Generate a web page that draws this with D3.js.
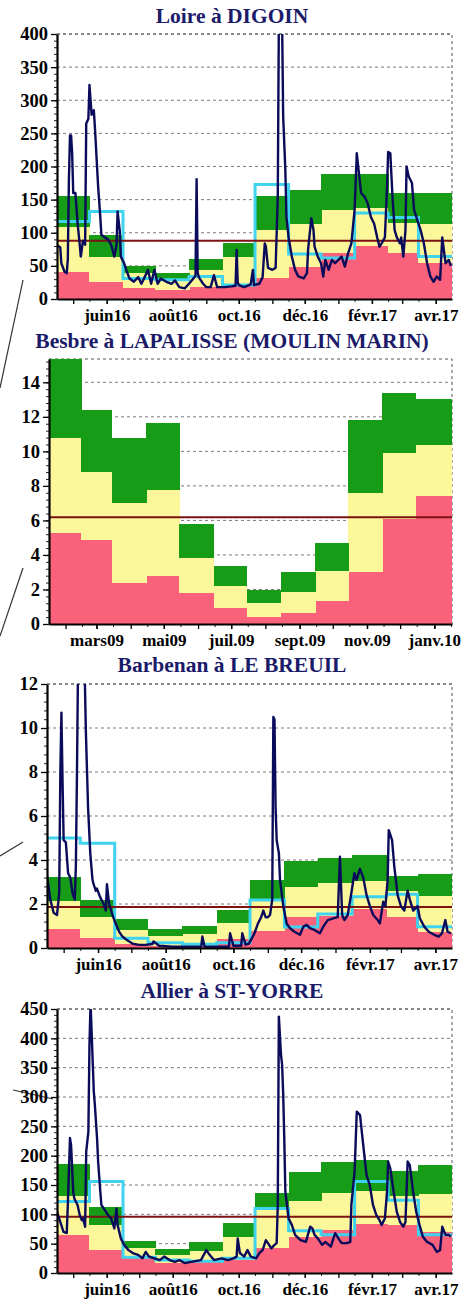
<!DOCTYPE html>
<html>
<head>
<meta charset="utf-8">
<script src="https://cdn.jsdelivr.net/npm/d3@7"></script>
<style>
  body { margin: 0; background: #fff; }
  svg text { font-family: "Liberation Serif", "Times New Roman", serif; font-weight: bold; }
</style>
</head>
<body>
<svg id="chart" width="473" height="1301"></svg>
<script>
// ---- tick labels ----
var ticks1617Dates = ["2016-06-01", "2016-08-01", "2016-10-01", "2016-12-01", "2017-02-01", "2017-04-01"];
var ticks1617Labels = ["juin16", "août16", "oct.16", "déc.16", "févr.17", "avr.17"];
var ticks0910Dates = ["2009-03-01", "2009-05-01", "2009-07-01", "2009-09-01", "2009-11-01", "2010-01-01"];
var ticks0910Labels = ["mars09", "mai09", "juil.09", "sept.09", "nov.09", "janv.10"];

// ---- Loire à DIGOIN (monthly bands, median, threshold, daily flow) ----
var loireLow = [41, 25, 16, 14, 18, 20, 31, 49, 70, 80, 70, 54];
var loireMid = [109, 64, 39, 29, 44, 63, 104, 113, 134, 138, 114, 113];
var loireHigh = [156, 97, 50, 39, 61, 85, 156, 164, 189, 189, 160, 160];
var loireMedian = [117, 132, 31, 29, 34, 21, 173, 68, 62, 130, 123, 64];
var loireThreshold = 88;
var loireFlow = [
  ["2016-04-16",81],["2016-04-19",78],["2016-04-20",54],["2016-04-23",41],["2016-04-25",39],["2016-04-26",60],
  ["2016-04-27",180],["2016-04-28",247],["2016-04-29",247],["2016-04-30",220],["2016-05-01",160],["2016-05-03",160],
  ["2016-05-05",115],["2016-05-07",82],["2016-05-08",64],["2016-05-10",88],["2016-05-12",82],["2016-05-13",265],
  ["2016-05-15",272],["2016-05-16",323],["2016-05-18",278],["2016-05-20",285],["2016-05-21",260],["2016-05-23",200],
  ["2016-05-24",170],["2016-05-26",124],["2016-05-27",97],["2016-05-30",93],["2016-06-02",90],["2016-06-05",82],
  ["2016-06-08",64],["2016-06-10",82],["2016-06-11",132],["2016-06-13",103],["2016-06-14",64],["2016-06-17",54],
  ["2016-06-19",44],["2016-06-22",31],["2016-06-26",26],["2016-06-30",33],["2016-07-03",23],["2016-07-06",33],
  ["2016-07-09",44],["2016-07-12",23],["2016-07-15",44],["2016-07-18",23],["2016-07-21",31],["2016-07-26",26],
  ["2016-07-31",23],["2016-08-03",28],["2016-08-07",18],["2016-08-12",16],["2016-08-16",23],["2016-08-20",31],
  ["2016-08-22",35],["2016-08-23",181],["2016-08-24",40],["2016-08-25",33],["2016-08-29",23],["2016-09-01",18],
  ["2016-09-05",18],["2016-09-08",36],["2016-09-11",18],["2016-09-18",18],["2016-09-24",19],["2016-09-28",20],
  ["2016-09-29",74],["2016-09-30",25],["2016-10-01",21],["2016-10-06",18],["2016-10-12",22],["2016-10-14",44],
  ["2016-10-15",21],["2016-10-20",23],["2016-10-23",33],["2016-10-25",84],["2016-10-26",79],["2016-10-28",47],
  ["2016-11-01",44],["2016-11-04",47],["2016-11-06",154],["2016-11-07",420],["2016-11-09",480],["2016-11-10",420],
  ["2016-11-11",275],["2016-11-13",195],["2016-11-14",124],["2016-11-16",93],["2016-11-19",64],["2016-11-22",44],
  ["2016-11-25",34],["2016-11-30",31],["2016-12-03",39],["2016-12-04",74],["2016-12-07",122],["2016-12-09",104],
  ["2016-12-10",79],["2016-12-13",64],["2016-12-16",54],["2016-12-18",34],["2016-12-20",59],["2016-12-23",44],
  ["2016-12-26",59],["2016-12-29",54],["2017-01-01",59],["2017-01-04",64],["2017-01-07",49],["2017-01-10",69],
  ["2017-01-13",84],["2017-01-16",134],["2017-01-18",220],["2017-01-19",205],["2017-01-22",160],["2017-01-25",155],
  ["2017-01-28",145],["2017-01-31",124],["2017-02-03",114],["2017-02-06",92],["2017-02-08",79],["2017-02-10",84],
  ["2017-02-13",93],["2017-02-15",170],["2017-02-16",222],["2017-02-18",220],["2017-02-20",155],["2017-02-22",104],
  ["2017-02-24",93],["2017-02-27",84],["2017-02-28",93],["2017-03-02",64],["2017-03-04",104],["2017-03-05",200],
  ["2017-03-07",185],["2017-03-10",175],["2017-03-12",134],["2017-03-15",119],["2017-03-18",104],["2017-03-21",84],
  ["2017-03-24",54],["2017-03-27",34],["2017-03-30",26],["2017-04-02",34],["2017-04-05",29],["2017-04-07",93],
  ["2017-04-10",54],["2017-04-13",59],["2017-04-15",50]
];

// ---- Besbre à LAPALISSE (bands and threshold only) ----
var besbreLow = [5.3, 4.86, 2.36, 2.8, 1.78, 0.91, 0.39, 0.62, 1.33, 3.03, 6.1, 7.43];
var besbreMid = [10.75, 8.78, 6.99, 7.78, 3.8, 2.18, 1.22, 1.87, 3.07, 7.59, 9.9, 10.37];
var besbreHigh = [16, 12.41, 10.75, 11.62, 5.77, 3.38, 1.97, 2.99, 4.71, 11.81, 13.36, 13.03];
var besbreThreshold = 6.18;

// ---- Barbenan à LE BREUIL ----
var barbenanLow = [0.86, 0.44, 0.2, 0.1, 0.1, 0.42, 0.76, 1.42, 1.45, 1.76, 1.42, 0.74];
var barbenanMid = [2.15, 1.39, 0.8, 0.55, 0.64, 1.14, 2.24, 2.76, 2.94, 3.06, 2.58, 2.35];
var barbenanHigh = [3.21, 2.17, 1.3, 0.85, 1.0, 1.71, 3.07, 3.97, 4.1, 4.25, 3.26, 3.36];
var barbenanMedian = [5.0, 4.76, 0.44, 0.24, 0.17, 0.24, 2.18, 0.95, 1.55, 2.33, 2.44, 0.97];
var barbenanThreshold = 1.86;
var barbenanFlow = [
  ["2016-04-16",3.3],["2016-04-19",2.2],["2016-04-22",1.6],["2016-04-25",1.5],["2016-04-27",2.5],["2016-04-28",7.9],
  ["2016-04-29",10.7],["2016-04-30",7.6],["2016-05-01",4.9],["2016-05-03",4.8],["2016-05-05",3.4],["2016-05-07",3.2],
  ["2016-05-09",2.5],["2016-05-11",2.2],["2016-05-12",3.7],["2016-05-13",7.9],["2016-05-14",13],["2016-05-17",13.5],
  ["2016-05-20",12.5],["2016-05-21",9.9],["2016-05-23",6.4],["2016-05-25",4.3],["2016-05-27",3.1],["2016-05-28",2.9],
  ["2016-05-30",2.6],["2016-05-31",2.7],["2016-06-03",2.3],["2016-06-06",2.0],["2016-06-08",1.7],["2016-06-09",2.9],
  ["2016-06-11",2.0],["2016-06-14",1.5],["2016-06-17",1.1],["2016-06-20",0.74],["2016-06-23",0.52],["2016-06-27",0.36],
  ["2016-07-02",0.2],["2016-07-08",0.14],["2016-07-14",0.14],["2016-07-20",0.18],["2016-07-21",0.3],["2016-07-26",0.1],
  ["2016-08-07",0.06],["2016-08-19",0.06],["2016-09-02",0.06],["2016-09-03",0.52],["2016-09-05",0.06],["2016-09-18",0.06],
  ["2016-09-27",0.06],["2016-09-28",0.67],["2016-10-01",0.1],["2016-10-08",0.1],["2016-10-09",0.67],["2016-10-12",0.15],
  ["2016-10-15",0.2],["2016-10-20",0.67],["2016-10-23",1.1],["2016-10-26",1.4],["2016-10-28",1.7],["2016-10-30",1.4],
  ["2016-11-01",1.4],["2016-11-03",1.5],["2016-11-05",2.2],["2016-11-06",10.5],["2016-11-07",10.4],["2016-11-08",6.4],
  ["2016-11-09",4.9],["2016-11-11",4.3],["2016-11-12",3.1],["2016-11-15",1.9],["2016-11-18",1.1],["2016-11-21",0.9],
  ["2016-11-25",0.74],["2016-11-30",0.6],["2016-12-03",0.97],["2016-12-06",1.05],["2016-12-09",0.9],["2016-12-13",0.82],
  ["2016-12-18",0.67],["2016-12-21",0.97],["2016-12-25",1.27],["2016-12-30",1.35],["2017-01-03",1.4],["2017-01-05",4.15],
  ["2017-01-07",1.5],["2017-01-09",1.27],["2017-01-12",1.5],["2017-01-15",2.4],["2017-01-18",3.4],["2017-01-20",3.1],
  ["2017-01-23",3.6],["2017-01-26",3.2],["2017-01-29",2.4],["2017-02-01",1.9],["2017-02-04",1.5],["2017-02-08",1.27],
  ["2017-02-10",1.12],["2017-02-13",2.1],["2017-02-15",1.9],["2017-02-17",3.1],["2017-02-18",5.36],["2017-02-21",4.9],
  ["2017-02-23",3.7],["2017-02-26",2.4],["2017-03-01",1.9],["2017-03-04",1.7],["2017-03-07",2.6],["2017-03-09",2.2],
  ["2017-03-12",1.7],["2017-03-16",1.9],["2017-03-18",1.35],["2017-03-22",0.97],["2017-03-26",0.74],["2017-03-31",0.6],
  ["2017-04-04",0.52],["2017-04-07",0.67],["2017-04-10",1.27],["2017-04-12",0.74],["2017-04-15",0.67]
];

// ---- Allier à ST-YORRE ----
var allierLow = [65, 39, 25, 17, 20, 22, 42, 62, 74, 83, 82, 70];
var allierMid = [132, 82, 42, 31, 38, 61, 113, 123, 136, 140, 132, 134];
var allierHigh = [185, 112, 55, 41, 52, 85, 136, 173, 190, 193, 174, 184];
var allierMedian = [122, 156, 27, 22, 20, 25, 110, 72, 65, 156, 124, 65];
var allierThreshold = 96;
var allierFlow = [
  ["2016-04-16",104],["2016-04-19",87],["2016-04-22",70],["2016-04-25",68],["2016-04-26",116],["2016-04-28",230],
  ["2016-04-29",218],["2016-05-01",139],["2016-05-02",127],["2016-05-05",116],["2016-05-07",99],["2016-05-09",90],
  ["2016-05-10",93],["2016-05-12",79],["2016-05-13",207],["2016-05-15",241],["2016-05-16",389],["2016-05-17",460],
  ["2016-05-18",411],["2016-05-20",309],["2016-05-21",286],["2016-05-23",230],["2016-05-24",190],["2016-05-26",139],
  ["2016-05-27",116],["2016-05-30",108],["2016-06-02",99],["2016-06-05",93],["2016-06-08",76],["2016-06-10",110],
  ["2016-06-11",82],["2016-06-14",59],["2016-06-17",48],["2016-06-21",39],["2016-06-25",34],["2016-06-30",31],
  ["2016-07-04",25],["2016-07-07",36],["2016-07-10",28],["2016-07-15",25],["2016-07-20",22],["2016-07-24",28],
  ["2016-07-29",22],["2016-08-03",19],["2016-08-07",22],["2016-08-12",17],["2016-08-18",19],["2016-08-27",22],
  ["2016-09-01",39],["2016-09-04",31],["2016-09-08",22],["2016-09-15",25],["2016-09-21",22],["2016-09-26",25],
  ["2016-09-29",28],["2016-09-30",59],["2016-10-02",34],["2016-10-06",28],["2016-10-09",39],["2016-10-12",28],
  ["2016-10-17",25],["2016-10-20",34],["2016-10-23",39],["2016-10-26",56],["2016-10-29",48],["2016-10-31",42],
  ["2016-11-03",48],["2016-11-05",51],["2016-11-06",116],["2016-11-07",437],["2016-11-09",372],["2016-11-10",355],
  ["2016-11-11",306],["2016-11-12",230],["2016-11-13",139],["2016-11-16",93],["2016-11-19",82],["2016-11-22",65],
  ["2016-11-27",56],["2016-12-02",53],["2016-12-06",79],["2016-12-08",76],["2016-12-10",65],["2016-12-13",59],
  ["2016-12-17",48],["2016-12-20",53],["2016-12-25",45],["2016-12-29",68],["2017-01-01",59],["2017-01-04",51],
  ["2017-01-09",51],["2017-01-12",53],["2017-01-13",116],["2017-01-16",173],["2017-01-18",275],["2017-01-21",269],
  ["2017-01-24",218],["2017-01-27",167],["2017-01-30",150],["2017-02-02",116],["2017-02-05",99],["2017-02-08",90],
  ["2017-02-10",82],["2017-02-13",93],["2017-02-15",139],["2017-02-16",190],["2017-02-18",178],["2017-02-21",139],
  ["2017-02-24",104],["2017-02-27",87],["2017-03-02",79],["2017-03-04",87],["2017-03-06",190],["2017-03-08",184],
  ["2017-03-11",139],["2017-03-14",104],["2017-03-17",82],["2017-03-20",62],["2017-03-24",53],["2017-03-29",48],
  ["2017-04-02",36],["2017-04-05",39],["2017-04-07",79],["2017-04-10",65],["2017-04-13",65],["2017-04-15",62]
];

var parse = d3.timeParse("%Y-%m-%d");
var svg = d3.select("#chart");

// colours
var pink = "#f9627a", yellow = "#fdf79b", green = "#169c16";
var cyan = "#3fd3ee", navy = "#0b0b5c", darkRed = "#7d1212";

// leader lines coming from the map on the left
var leaders = [[[23, 280], [0, 388]], [[23, 568], [0, 636]], [[23, 842], [0, 856]], [[13, 1090], [53, 1099]]];
svg.selectAll(".leader").data(leaders).enter().append("line")
    .attr("x1", d => d[0][0]).attr("y1", d => d[0][1])
    .attr("x2", d => d[1][0]).attr("y2", d => d[1][1])
    .attr("stroke", "#333").attr("stroke-width", 1.2);

function drawPanel(p) {
    var x = d3.scaleTime().domain([parse(p.start), parse(p.end)]).range([p.left, p.right]);
    var y = d3.scaleLinear().domain([0, p.yMax]).range([p.bottom, p.top]);
    var g = svg.append("g");

    g.append("clipPath").attr("id", "clip-" + p.id)
        .append("rect")
        .attr("x", p.left).attr("y", p.top)
        .attr("width", p.right - p.left).attr("height", p.bottom - p.top);

    // title
    g.append("text")
        .attr("x", 232).attr("y", p.titleY)
        .attr("text-anchor", "middle")
        .attr("fill", "#1b1b6a")
        .style("font-size", "21.5px")
        .text(p.title);

    // dashed grid + frame (under the bands)
    g.append("g").selectAll("line").data(p.yTicks.filter(d => d > 0)).enter().append("line")
        .attr("x1", p.left).attr("x2", p.right)
        .attr("y1", d => y(d)).attr("y2", d => y(d))
        .attr("stroke", "#7a7a7a").attr("stroke-dasharray", "3,3");
    g.append("path")
        .attr("d", `M${p.left},${p.top}H${p.right}V${p.bottom}`)
        .attr("fill", "none").attr("stroke", "#555").attr("stroke-dasharray", "3,3");

    // monthly bands
    var first = parse(p.firstEdge);
    var edges = [x.domain()[0]]
        .concat(d3.range(11).map(i => d3.timeMonth.offset(first, i)))
        .concat([x.domain()[1]]);
    var bands = p.low.map((v, i) => ({
        x0: edges[i], x1: edges[i + 1], low: v, mid: p.mid[i], high: p.high[i]
    }));

    var plot = g.append("g").attr("clip-path", `url(#clip-${p.id})`);
    var layers = [
        {color: pink, lo: d => 0, hi: d => d.low},
        {color: yellow, lo: d => d.low, hi: d => d.mid},
        {color: green, lo: d => d.mid, hi: d => d.high}
    ];
    layers.forEach(function(layer) {
        plot.append("g").selectAll("rect").data(bands).enter().append("rect")
            .attr("x", d => x(d.x0))
            .attr("width", d => x(d.x1) - x(d.x0) + 0.5)
            .attr("y", d => y(layer.hi(d)))
            .attr("height", d => y(layer.lo(d)) - y(layer.hi(d)))
            .attr("fill", layer.color)
            .attr("shape-rendering", "crispEdges");
    });

    // median step line
    if (p.median) {
        var steps = bands.map((d, i) => [d.x0, p.median[i]]);
        steps.push([x.domain()[1], p.median[p.median.length - 1]]);
        plot.append("path")
            .datum(steps)
            .attr("d", d3.line().x(d => x(d[0])).y(d => y(d[1])).curve(d3.curveStepAfter))
            .attr("fill", "none").attr("stroke", cyan).attr("stroke-width", 3);
    }

    // threshold
    plot.append("line")
        .attr("x1", p.left).attr("x2", p.right)
        .attr("y1", y(p.threshold)).attr("y2", y(p.threshold))
        .attr("stroke", darkRed).attr("stroke-width", 2);

    // daily flow
    if (p.flow) {
        plot.append("path")
            .datum(p.flow)
            .attr("d", d3.line().x(d => x(parse(d[0]))).y(d => y(d[1])))
            .attr("fill", "none").attr("stroke", navy)
            .attr("stroke-width", 2.4).attr("stroke-linejoin", "round");
    }

    // y axis
    var minor = d3.range(0, p.yMax, p.minorStep);
    g.append("g").attr("transform", `translate(${p.left},0)`)
        .call(d3.axisLeft(y).tickValues(minor).tickSize(3).tickSizeOuter(0).tickFormat(""))
        .call(a => a.select(".domain").remove())
        .selectAll("line").attr("stroke", "#222");
    var yAxis = g.append("g").attr("transform", `translate(${p.left},0)`)
        .call(d3.axisLeft(y).tickValues(p.yTicks).tickSize(6).tickPadding(3).tickSizeOuter(0));
    yAxis.select(".domain").attr("stroke", "#000").attr("stroke-width", 2.2);
    yAxis.selectAll("line").attr("stroke", "#000").attr("stroke-width", 1.3);
    yAxis.selectAll("text").style("font-size", "18.5px")
        .style("font-family", "'Liberation Serif', serif").attr("fill", "#000");

    // x axis
    var months = d3.timeMonth.range(x.domain()[0], x.domain()[1]);
    var halves = months.map(d => d3.timeDay.offset(d, 15)).filter(d => d < x.domain()[1]);
    g.append("g").attr("transform", `translate(0,${p.bottom})`)
        .call(d3.axisBottom(x).tickValues(halves).tickSize(3).tickSizeOuter(0).tickFormat(""))
        .call(a => a.select(".domain").remove())
        .selectAll("line").attr("stroke", "#222");
    g.append("g").attr("transform", `translate(0,${p.bottom})`)
        .call(d3.axisBottom(x).tickValues(months).tickSize(5).tickSizeOuter(0).tickFormat(""))
        .call(a => a.select(".domain").remove())
        .selectAll("line").attr("stroke", "#000").attr("stroke-width", 1.3);
    var xAxis = g.append("g").attr("transform", `translate(0,${p.bottom})`)
        .call(d3.axisBottom(x)
            .tickValues(p.tickDates.map(parse))
            .tickFormat((d, i) => p.tickLabels[i])
            .tickSize(5).tickPadding(5).tickSizeOuter(0));
    xAxis.select(".domain").attr("stroke", "#000").attr("stroke-width", 2.2);
    xAxis.selectAll("line").attr("stroke", "#000").attr("stroke-width", 1.3);
    xAxis.selectAll("text").style("font-size", "17px")
        .style("font-family", "'Liberation Serif', serif").attr("fill", "#000");
}

drawPanel({
    id: "loire", title: "Loire à DIGOIN", titleY: 23,
    left: 57, right: 452, top: 34, bottom: 299,
    yMax: 400, yTicks: d3.range(0, 401, 50), minorStep: 10,
    start: "2016-04-16", end: "2017-04-16", firstEdge: "2016-05-16",
    low: loireLow, mid: loireMid, high: loireHigh, median: loireMedian,
    threshold: loireThreshold, flow: loireFlow,
    tickDates: ticks1617Dates, tickLabels: ticks1617Labels
});

drawPanel({
    id: "besbre", title: "Besbre à LAPALISSE (MOULIN MARIN)", titleY: 348,
    left: 49, right: 452, top: 359, bottom: 624,
    yMax: 15.35, yTicks: d3.range(0, 15, 2), minorStep: 0.4,
    start: "2009-01-17", end: "2010-01-17", firstEdge: "2009-02-15",
    low: besbreLow, mid: besbreMid, high: besbreHigh,
    threshold: besbreThreshold,
    tickDates: ticks0910Dates, tickLabels: ticks0910Labels
});

drawPanel({
    id: "barbenan", title: "Barbenan à LE BREUIL", titleY: 672,
    left: 47, right: 452, top: 684, bottom: 948,
    yMax: 12, yTicks: d3.range(0, 13, 2), minorStep: 0.4,
    start: "2016-04-16", end: "2017-04-16", firstEdge: "2016-05-16",
    low: barbenanLow, mid: barbenanMid, high: barbenanHigh, median: barbenanMedian,
    threshold: barbenanThreshold, flow: barbenanFlow,
    tickDates: ticks1617Dates, tickLabels: ticks1617Labels
});

drawPanel({
    id: "allier", title: "Allier à ST-YORRE", titleY: 998,
    left: 57, right: 452, top: 1009, bottom: 1273,
    yMax: 450, yTicks: d3.range(0, 451, 50), minorStep: 10,
    start: "2016-04-16", end: "2017-04-16", firstEdge: "2016-05-16",
    low: allierLow, mid: allierMid, high: allierHigh, median: allierMedian,
    threshold: allierThreshold, flow: allierFlow,
    tickDates: ticks1617Dates, tickLabels: ticks1617Labels
});
</script>
</body>
</html>
